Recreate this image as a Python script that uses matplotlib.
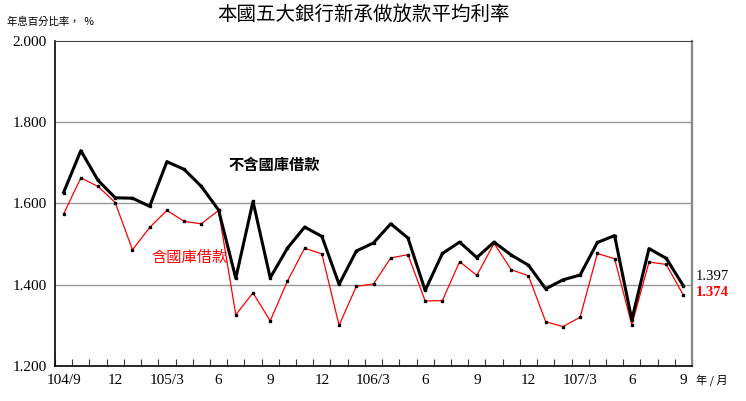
import matplotlib
matplotlib.use("Agg")
import matplotlib.pyplot as plt
import numpy as np

plt.rcParams['font.family'] = ['Noto Sans CJK TC', 'DejaVu Sans']

# 104/9 .. 107/9 monthly
tick_labels = ["104/9", "12", "105/3", "6", "9", "12", "106/3", "6", "9", "12", "107/3", "6", "9"]
excl_treasury = [1.627, 1.730, 1.657, 1.614, 1.613, 1.593, 1.703, 1.684, 1.642, 1.584,
                 1.416, 1.605, 1.417, 1.490, 1.542, 1.519, 1.401, 1.483, 1.503, 1.550,
                 1.515, 1.386, 1.477, 1.505, 1.467, 1.505, 1.473, 1.448, 1.390, 1.412,
                 1.424, 1.504, 1.521, 1.314, 1.489, 1.465, 1.397]
incl_treasury = [1.574, 1.663, 1.642, 1.602, 1.486, 1.541, 1.583, 1.556, 1.550, 1.583,
                 1.326, 1.380, 1.311, 1.409, 1.490, 1.476, 1.300, 1.396, 1.402, 1.466,
                 1.474, 1.360, 1.361, 1.457, 1.423, 1.502, 1.437, 1.422, 1.309, 1.297,
                 1.320, 1.477, 1.464, 1.301, 1.456, 1.450, 1.374]

serif = "Liberation Serif"
x = np.arange(len(excl_treasury))

fig = plt.figure(figsize=(7.46, 4.01), dpi=100)
ax = fig.add_axes([0.0737, 0.0873, 0.854, 0.8105])

for v in (1.4, 1.6, 1.8):
    ax.axhline(v, color="#999999", lw=1.0, zorder=0)

ax.plot(x, excl_treasury, color="black", lw=2.2, marker="s", ms=1.8, zorder=3)
ax.plot(x, incl_treasury, color="#ff0000", lw=0.9, marker="s", ms=1.6,
        mfc="black", mec="black", zorder=2)

ax.set_xlim(-0.5, len(x) - 0.5)
ax.set_ylim(1.2, 2.0)
ax.set_yticks([1.2, 1.4, 1.6, 1.8, 2.0])
ax.set_yticklabels([f"{v:.3f}" for v in [1.2, 1.4, 1.6, 1.8, 2.0]],
                   fontfamily=serif, fontsize=11)
ax.tick_params(axis="y", length=0, pad=6)

ax.set_xticks(x[::3])
ax.set_xticklabels(tick_labels, fontfamily=serif, fontsize=11)
ax.tick_params(axis="x", which="major", length=0, pad=6)
ax.set_xticks(np.arange(-0.5, len(x), 1), minor=True)
ax.tick_params(axis="x", which="minor", direction="in", length=5, width=0.8, color="#333333")

for side in ("left", "bottom"):
    ax.spines[side].set_color("black")
    ax.spines[side].set_linewidth(1.2)
ax.spines["top"].set_color("#444444")
ax.spines["right"].set_color("#888888")
ax.spines["right"].set_linewidth(1.6)

ax.text(0.272, 0.62, "不含國庫借款", transform=ax.transAxes, fontsize=11,
        fontweight="bold", color="black", va="center", ha="left")
ax.text(0.152, 0.335, "含國庫借款", transform=ax.transAxes, fontsize=11,
        color="#ff0000", va="center", ha="left")

ax.annotate(f"{excl_treasury[-1]:.3f}", (x[-1], excl_treasury[-1]), xytext=(9, 7),
            textcoords="offset points", fontfamily=serif, fontsize=10.5,
            color="black", va="center", ha="left")
ax.annotate(f"{incl_treasury[-1]:.3f}", (x[-1], incl_treasury[-1]), xytext=(9, 2),
            textcoords="offset points", fontfamily=serif, fontsize=10.5,
            fontweight="bold", color="#ff0000", va="center", ha="left")

fig.text(0.487, 0.965, "本國五大銀行新承做放款平均利率", ha="center", va="center", fontsize=14)
fig.text(0.009, 0.945, "年息百分比率，  %", ha="left", va="center", fontsize=7.5)
fig.text(0.954, 0.052, "年 / 月", ha="center", va="center", fontsize=8)

fig.savefig("out.png", dpi=100)
